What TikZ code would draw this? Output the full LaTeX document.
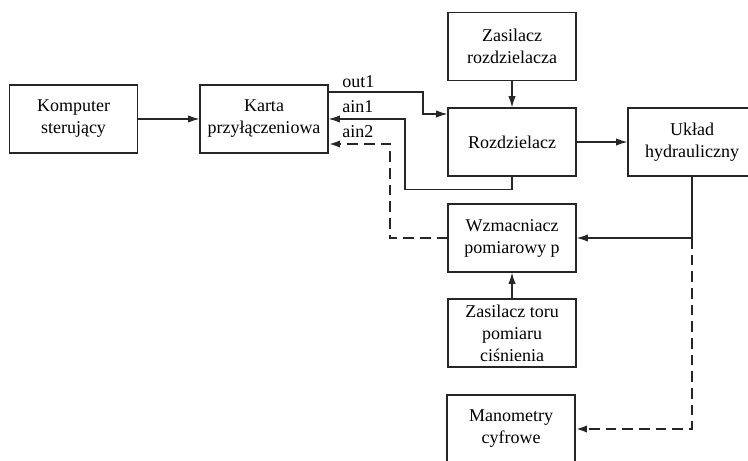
\documentclass[tikz,border=0pt]{standalone}
\usepackage{fontspec}
\setmainfont{Liberation Serif}
\usetikzlibrary{arrows.meta}

\begin{document}
\begin{tikzpicture}[x=0.75pt,y=-0.75pt,
	blok/.style={draw=black!85,line width=0.9pt,minimum width=96pt,minimum height=51pt,
		align=center,inner sep=1pt,font=\fontsize{13.5}{16.5}\selectfont},
	sygnal/.style={font=\fontsize{13.5}{16.5}\selectfont,inner sep=0pt,anchor=base west},
	strz/.style={draw=black!85,line width=0.9pt,-{Latex[length=8.5pt,width=5.5pt]}},
	przer/.style={strz,line width=2pt,dash pattern=on 8pt off 4.5pt}]
			%%%%% START %%%%%
			
			\clip (0,0) rectangle (748,460);
			
			\node[blok] (komputer) at (73.5,119) {Komputer\\sterujący};
			\node[blok] (karta) at (264,119) {Karta\\przyłączeniowa};
			
			\node[blok] (zasRozdz) at (512,46.5) {Zasilacz\\rozdzielacza};
			\node[blok] (rozdz) at (512,142) {Rozdzielacz};
			\node[blok] (uklad) at (692,142) {Układ\\hydrauliczny};
			
			\node[blok] (wzmacn) at (512,238) {Wzmacniacz\\pomiarowy p};
			\node[blok] (zasToru) at (512,333) {Zasilacz toru\\pomiaru\\ciśnienia};
			\node[blok] (manom) at (511,429) {Manometry\\cyfrowe};
			
			\node[sygnal] (lOut) at (342,87) {out1};
			\node[sygnal] (lAin1) at (342,112) {ain1};
			\node[sygnal] (lAin2) at (342,137) {ain2};
			
			\draw[strz] (komputer) -- (karta);
			\draw[strz] (zasRozdz) -- (rozdz);
			\draw[strz] (rozdz) -- (uklad);
			\draw[strz] (zasToru) -- (wzmacn);
			
			\draw[strz] ([shift={(0,-27)}]karta.east) -| (423,114) -- (rozdz.west |- 0,114);
			\draw[strz] (rozdz.south) -- ++(0,13) -| (405,119) -- (karta.east);
			\draw[przer] (wzmacn.west) -| (390,144) -- (karta.east |- 0,144);
			
			\coordinate (rozgal) at (uklad.south |- wzmacn.east);
			\draw[strz] (uklad.south) -- (rozgal) -- (wzmacn.east);
			\draw[przer] (rozgal) |- (manom.east);
			
			%%%%% END %%%%%
\end{tikzpicture}
\end{document}
